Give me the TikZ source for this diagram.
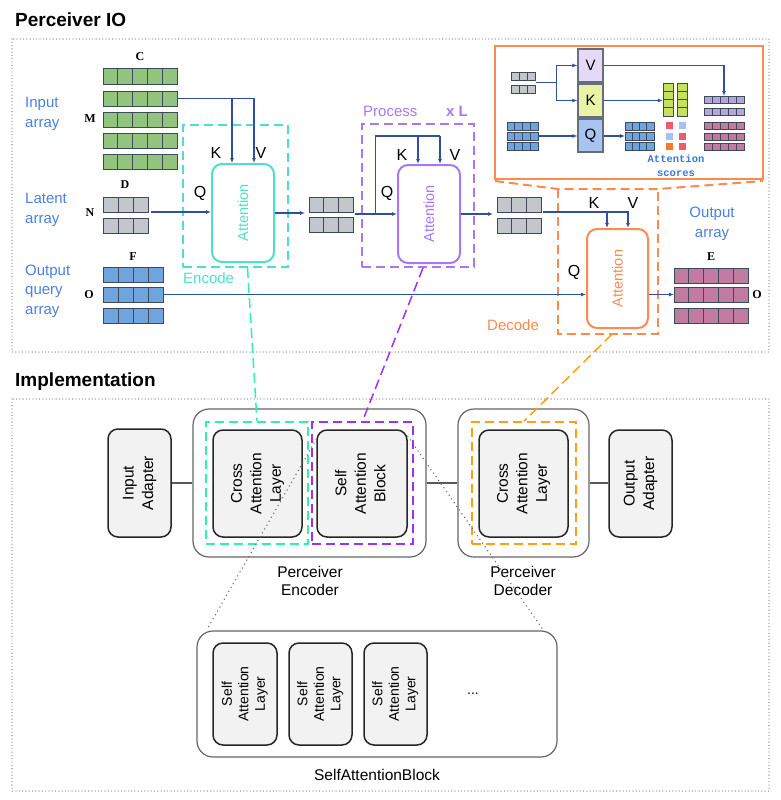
\documentclass[tikz,border=0pt]{standalone}
\usepackage{fontspec}
\setmainfont{Liberation Sans}
\newfontfamily\mserif{Liberation Serif}
\newfontfamily\mmono{Liberation Mono}
\usepackage{graphicx}
\usetikzlibrary{arrows.meta,calc}

\definecolor{arrowblue}{HTML}{2F4FA0}
\definecolor{lblue}{HTML}{4A80E0}
\definecolor{cgreen}{HTML}{93C47D}
\definecolor{cgrey}{HTML}{C3C6CA}
\definecolor{cblue}{HTML}{6FA5DC}
\definecolor{cmauve}{HTML}{C27BA0}
\definecolor{cpurp}{HTML}{B4A7D6}
\definecolor{cyg}{HTML}{C6E05A}
\definecolor{cellline}{HTML}{3D4A5C}
\definecolor{encC}{HTML}{4CE0C8}
\definecolor{procC}{HTML}{A678F5}
\definecolor{decC}{HTML}{FF8A50}
\definecolor{encI}{HTML}{2EF0B4}
\definecolor{procI}{HTML}{A030F5}
\definecolor{decI}{HTML}{FFA010}
\definecolor{vfill}{HTML}{E6D9F7}
\definecolor{kfill}{HTML}{E8F3A4}
\definecolor{qfill}{HTML}{A9C3F3}
\definecolor{sred}{HTML}{F05A6E}
\definecolor{slb}{HTML}{A4C2F4}
\definecolor{sor}{HTML}{F07C2C}
\definecolor{scoreblue}{HTML}{3C78D8}

\tikzset{
  cell/.style={draw=cellline, line width=1pt},
  arr/.style={draw=arrowblue, line width=1.1pt, -{Latex[length=5pt,width=4pt]}},
  ln/.style={draw=arrowblue, line width=1.1pt},
  attbox/.style={rounded corners=10pt, line width=2pt, minimum width=62pt, minimum height=98pt, inner sep=0pt, font=\fontsize{14.5}{15}\selectfont},
  dbox/.style={line width=2pt, dash pattern=on 9pt off 5pt, inner sep=0pt},
  kvq/.style={font=\fontsize{16}{16}\selectfont, text=black, inner sep=0pt},
  mlab/.style={font=\mserif\bfseries\fontsize{12}{12}\selectfont, inner sep=0pt},
  arrlab/.style={font=\fontsize{15}{19.5}\selectfont, text=lblue, align=left, anchor=west, inner sep=0pt},
  stagelab/.style={font=\fontsize{15}{15}\selectfont, inner sep=0pt},
  dotframe/.style={draw=black!50, line width=1.3pt, dash pattern=on 0pt off 3.3pt, line cap=round},
  qkv/.style={draw=cellline!80, line width=1.2pt, minimum width=25pt, minimum height=33pt, inner sep=0pt, font=\fontsize{15}{15}\selectfont},
  imbox/.style={draw=black!85, fill=black!5, line width=1.5pt, rounded corners=10pt, inner sep=0pt, font=\fontsize{15.5}{19.5}\selectfont},
  outerbox/.style={draw=black!60, line width=1.2pt, rounded corners=16pt, inner sep=0pt},
  idash/.style={line width=1.6pt, dash pattern=on 9pt off 5pt, inner sep=0pt},
  link/.style={line width=1.5pt, dash pattern=on 10pt off 5pt},
  conn/.style={draw=black!65, line width=1.2pt},
  dotlink/.style={draw=black!60, line width=1.5pt, dash pattern=on 0pt off 4.5pt, line cap=round},
  implab/.style={font=\fontsize{15.5}{18}\selectfont, align=center, inner sep=0pt},
  title/.style={font=\bfseries\fontsize{19}{19}\selectfont, anchor=west, inner sep=0pt}
}

% name, x, y, n, cell width, height, fill
\newcommand\mrow[7]{%
  \foreach \ii in {1,...,#4}{\draw[cell,fill=#7] ({#2+(\ii-1)*#5},#3) rectangle ++(#5,#6);}
  \node[inner sep=0pt,outer sep=0pt,minimum width={#4*#5*1pt},minimum height={#6*1pt}] (#1) at ({#2+#4*#5/2},{#3+#6/2}) {};
}

\begin{document}
\begin{tikzpicture}[x=1pt,y=-1pt]
\useasboundingbox (0,0) rectangle (781,800);

% ---------- titles and frames
\node[title] (t1) at (15,20) {Perceiver IO};
\node[title] (t2) at (15,382) {Implementation};
\draw[dotframe] (12,39) rectangle (769,352);
\draw[dotframe] (12,399) rectangle (769,791);

% ---------- left labels
\node[arrlab] (lin) at (25,114) {Input\\array};
\node[arrlab] (llat) at (25,210) {Latent\\array};
\node[arrlab] (loq) at (25,291) {Output\\query\\array};

% ---------- input array
\mrow{in1}{103}{69}{5}{14.8}{15}{cgreen}
\mrow{in2}{103}{91}{5}{14.8}{15}{cgreen}
\mrow{in3}{103}{112}{5}{14.8}{15}{cgreen}
\mrow{in4}{103}{133}{5}{14.8}{15}{cgreen}
\mrow{in5}{103}{154}{5}{14.8}{15}{cgreen}
\node[mlab] (lC) at (140,57) {C};
\node[mlab] (lM) at (90,119) {M};

% ---------- latent array
\mrow{lat1}{103}{197}{3}{15}{15}{cgrey}
\mrow{lat2}{103}{218}{3}{15}{15}{cgrey}
\node[mlab] (lD) at (125,185) {D};
\node[mlab] (lN) at (90,213) {N};

% ---------- output query array
\mrow{oq1}{103}{267}{4}{15}{15}{cblue}
\mrow{oq2}{103}{287}{4}{15}{15}{cblue}
\mrow{oq3}{103}{308}{4}{15}{15}{cblue}
\node[mlab] (lF) at (133,257) {F};
\node[mlab] (lO) at (89,295) {O};

% ---------- encode
\node[dbox, draw=encC, minimum width=105pt, minimum height=142pt] (encBox) at (235.5,196) {};
\node[attbox, draw=encC, text=encC] (encAtt) at (243,213) {\rotatebox{90}{Attention}};
\node[stagelab, text=encC, anchor=west] (lenc) at (183,278) {Encode};
\node[kvq] (encK) at (216,153) {K};
\node[kvq] (encV) at (261,153) {V};
\node[kvq] (encQ) at (200,193) {Q};
\draw[arr] (in2.east) -| ([xshift=-11pt]encAtt.north);
\draw[arr] (in2.east) -| ([xshift=11pt]encAtt.north);
\draw[arr] ([xshift=3pt]lat1.south east) -- (encAtt.west |- lat1.south east);

% ---------- latent 2
\mrow{lb1}{309}{197}{3}{14.7}{15}{cgrey}
\mrow{lb2}{309}{217}{3}{14.7}{15}{cgrey}
\draw[arr] (encAtt.east) -- ([xshift=-4pt]lb1.west |- encAtt.east);

% ---------- process
\node[dbox, draw=procC, minimum width=112pt, minimum height=143pt] (procBox) at (418,195.5) {};
\node[attbox, draw=procC, text=procC] (procAtt) at (429,214) {\rotatebox{90}{Attention}};
\node[stagelab, text=procC, anchor=west] (lproc) at (363,111) {Process};
\node[stagelab, text=procC, anchor=west, font=\bfseries\fontsize{15}{15}\selectfont] (lxl) at (446,111) {x L};
\node[kvq] (procK) at (402,155) {K};
\node[kvq] (procV) at (455,155) {V};
\node[kvq] (procQ) at (387,193) {Q};
\coordinate (pj) at ($(lb1.east |- procAtt.west)+(22,0)$);
\draw[arr] ([xshift=2pt]lb1.east |- procAtt.west) -- (procAtt.west);
\draw[ln] (pj) |- ([xshift=11pt,yshift=28pt]procAtt.north);
\draw[arr] ([xshift=11pt,yshift=28pt]procAtt.north) -- ([xshift=11pt]procAtt.north);
\draw[arr] ([xshift=-11pt,yshift=28pt]procAtt.north) -- ([xshift=-11pt]procAtt.north);

% ---------- latent 3
\mrow{lc1}{497}{197}{3}{14.7}{15}{cgrey}
\mrow{lc2}{497}{218}{3}{14.7}{15}{cgrey}
\draw[arr] (procAtt.east) -- ([xshift=-4pt]lc1.west |- procAtt.east);

% ---------- decode
\draw[dbox, draw=decC] (558,189) -- (558,334) -- (658,334) -- (658,189);
\node[inner sep=0pt, minimum width=100pt, minimum height=145pt] (decBox) at (608,261.5) {};
\draw[dbox, draw=decC] (495,181) -- (558,189) -- (658,189) -- (763,181);
\node[attbox, draw=decC, text=decC, minimum width=61pt, minimum height=99pt] (decAtt) at (617.5,278.5) {\rotatebox{90}{Attention}};
\node[stagelab, text=decC, anchor=west] (ldec) at (487,325) {Decode};
\node[kvq] (decK) at (594,203) {K};
\node[kvq] (decV) at (633,203) {V};
\node[kvq] (decQ) at (574,272) {Q};
\draw[arr] ([xshift=2pt]lc1.south east) -| ([xshift=-10.5pt]decAtt.north);
\draw[arr] ([xshift=2pt]lc1.south east) -| ([xshift=10.5pt]decAtt.north);
\draw[arr] (oq2.east) -- (decAtt.west |- oq2.east);

% ---------- output array
\mrow{out1}{674}{268}{5}{14.8}{15}{cmauve}
\mrow{out2}{674}{287}{5}{14.8}{15}{cmauve}
\mrow{out3}{674}{308}{5}{14.8}{15}{cmauve}
\node[mlab] (lE) at (711,257) {E};
\node[mlab] (lO2) at (757,295) {O};
\node[font=\fontsize{15}{19.5}\selectfont, text=lblue, align=center, inner sep=0pt] (lout) at (712,224) {Output\\array};
\draw[arr] (decAtt.east |- out2.west) -- (out2.west);

% ---------- inset
\node[draw=decC, line width=2pt, minimum width=268pt, minimum height=133pt, inner sep=0pt] (inset) at (629,112.5) {};
\mrow{ig1}{511}{72}{3}{8.3}{8}{cgrey}
\mrow{ig2}{511}{85}{3}{8.3}{8}{cgrey}
\mrow{ib1}{507}{122}{4}{7.8}{8}{cblue}
\mrow{ib2}{507}{132}{4}{7.8}{8}{cblue}
\mrow{ib3}{507}{142}{4}{7.8}{8}{cblue}
\mrow{ic1}{625}{122}{4}{7.3}{8}{cblue}
\mrow{ic2}{625}{132}{4}{7.3}{8}{cblue}
\mrow{ic3}{625}{142}{4}{7.3}{8}{cblue}
\mrow{ip1}{704}{96}{5}{8}{7.5}{cpurp}
\mrow{ip2}{704}{108}{5}{8}{7.5}{cpurp}
\mrow{im1}{704}{122}{5}{8}{7.5}{cmauve}
\mrow{im2}{704}{133}{5}{8}{7.5}{cmauve}
\mrow{im3}{704}{143}{5}{8}{7.5}{cmauve}
\foreach \yy in {0,1,2,3}{
  \draw[cell, fill=cyg] (663,{83+\yy*8.25}) rectangle ++(10,8.25);
  \draw[cell, fill=cyg] (677,{83+\yy*8.25}) rectangle ++(10,8.25);
}
\node[inner sep=0pt, minimum width=24pt, minimum height=33pt] (gcol) at (675,99.5) {};
\node[qkv, fill=vfill] (vbox) at (590.5,65.5) {V};
\node[qkv, fill=kfill] (kbox) at (590.5,100.5) {K};
\node[qkv, fill=qfill] (qbox) at (590.5,135.5) {Q};
\coordinate (ij) at ($(ig1.east)!0.5!(ig2.east)+(21,0)$);
\draw[ln] ($(ig1.east)!0.5!(ig2.east)$) -- (ij);
\draw[arr] (ij) |- (vbox.west);
\draw[arr] (ij) |- (kbox.west);
\draw[arr] (ib2.east) -- (qbox.west |- ib2.east);
\draw[arr] (qbox.east |- ic2.west) -- (ic2.west);
\draw[arr] (kbox.east) -- (gcol.west |- kbox.east);
\draw[arr] (vbox.east) -| (ip1.north);
\fill[sred] (666,122) rectangle ++(6.5,6.5);
\fill[slb] (666,133) rectangle ++(6.5,6.5);
\fill[sor] (666,143) rectangle ++(6.5,6.5);
\fill[slb] (679,122) rectangle ++(6.5,6.5);
\fill[sred] (679,133) rectangle ++(6.5,6.5);
\fill[sred] (679,143) rectangle ++(6.5,6.5);
\node[font=\mmono\bfseries\fontsize{10.5}{14}\selectfont, text=scoreblue, align=center, inner sep=0pt] (scores) at (676,166) {Attention\\scores};

% ---------- implementation
\node[outerbox, minimum width=233pt, minimum height=148pt] (encOuter) at (309.5,483) {};
\node[outerbox, minimum width=131pt, minimum height=148pt] (decOuter) at (523.5,483) {};
\node[idash, draw=encI, minimum width=102pt, minimum height=122pt] (encDash) at (257,483) {};
\node[idash, draw=procI, minimum width=101pt, minimum height=122pt] (procDash) at (362.5,483) {};
\node[idash, draw=decI, minimum width=104pt, minimum height=122pt] (decDash) at (524,483) {};
\node[imbox, minimum width=63pt, minimum height=108pt] (inAd) at (139.5,483) {\rotatebox{90}{\begin{tabular}{@{}c@{}}Input\\Adapter\end{tabular}}};
\node[imbox, minimum width=89pt, minimum height=107pt] (encCross) at (257.5,483.5) {\rotatebox{90}{\begin{tabular}{@{}c@{}}Cross\\Attention\\Layer\end{tabular}}};
\node[imbox, minimum width=90pt, minimum height=107pt] (sab) at (362,483.5) {\rotatebox{90}{\begin{tabular}{@{}c@{}}Self\\Attention\\Block\end{tabular}}};
\node[imbox, minimum width=89pt, minimum height=107pt] (decCross) at (523.5,483.5) {\rotatebox{90}{\begin{tabular}{@{}c@{}}Cross\\Attention\\Layer\end{tabular}}};
\node[imbox, minimum width=63pt, minimum height=107pt] (outAd) at (640.5,483.5) {\rotatebox{90}{\begin{tabular}{@{}c@{}}Output\\Adapter\end{tabular}}};
\draw[conn] (inAd.east) -- (encOuter.west |- inAd.east);
\draw[conn] (encOuter.east) -- (decOuter.west);
\draw[conn] (decOuter.east) -- (outAd.west |- decOuter.east);
\node[implab] (lpe) at (310,581) {Perceiver\\Encoder};
\node[implab] (lpd) at (523,581) {Perceiver\\Decoder};

% ---------- self attention block detail
\node[outerbox, minimum width=360pt, minimum height=126pt] (sabOuter) at (377,694) {};
\node[imbox, minimum width=64pt, minimum height=102pt, font=\fontsize{14}{16.5}\selectfont] (sal1) at (245,694) {\rotatebox{90}{\begin{tabular}{@{}c@{}}Self\\Attention\\Layer\end{tabular}}};
\node[imbox, minimum width=63pt, minimum height=102pt, font=\fontsize{14}{16.5}\selectfont] (sal2) at (320.5,694) {\rotatebox{90}{\begin{tabular}{@{}c@{}}Self\\Attention\\Layer\end{tabular}}};
\node[imbox, minimum width=63pt, minimum height=102pt, font=\fontsize{14}{16.5}\selectfont] (sal3) at (395.5,694) {\rotatebox{90}{\begin{tabular}{@{}c@{}}Self\\Attention\\Layer\end{tabular}}};
\node[font=\fontsize{14}{14}\selectfont, inner sep=0pt] (dots) at (473,694) {...};
\node[implab] (lsab) at (377,775) {SelfAttentionBlock};

% ---------- links between views
\draw[link, draw=encI] ([xshift=12pt]encBox.south) -- (encDash.north);
\draw[link, draw=procI] ([xshift=5pt]procBox.south) -- (procDash.north);
\draw[link, draw=decI] ([xshift=4pt]decBox.south) -- (decDash.north);
\draw[dotlink] ([yshift=-10pt]sab.north west) -- ([xshift=10pt]sabOuter.north west);
\draw[dotlink] ([yshift=-7pt]sab.north east) -- ([xshift=-14pt]sabOuter.north east);
\end{tikzpicture}
\end{document}
